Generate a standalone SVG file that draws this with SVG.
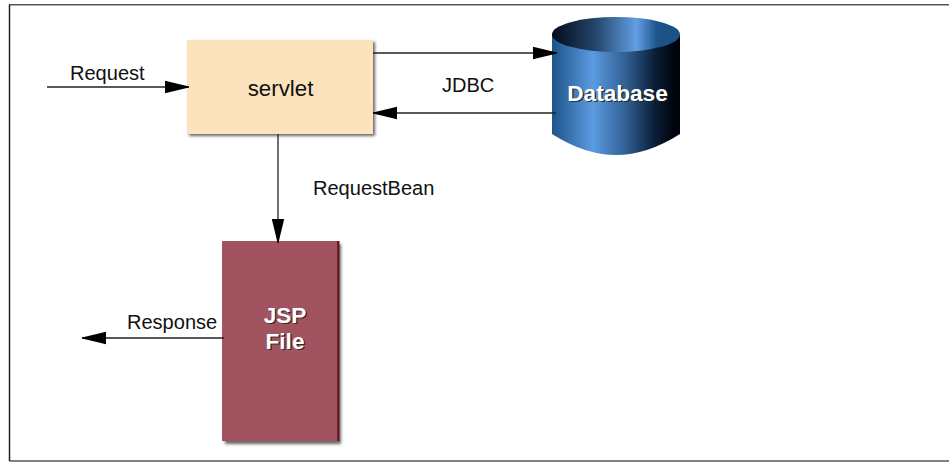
<svg xmlns="http://www.w3.org/2000/svg" width="949" height="462" viewBox="0 0 949 462">
<style>
.lbl{font-family:"Liberation Sans",Arial,sans-serif;font-size:20.050px;fill:#111}
.big{font-family:"Liberation Sans",Arial,sans-serif;font-size:22.600px;font-weight:bold;fill:#fff;text-anchor:middle}
.shd{fill:#222;opacity:.85;filter:url(#ts)}
.conn{stroke:#222;stroke-width:1.3;fill:none;marker-end:url(#ah)}
</style>
<defs>
<marker id="ah" markerUnits="userSpaceOnUse" markerWidth="25" markerHeight="14" refX="24" refY="7" orient="auto"><path d="M0 .8L24 6.600V7.400L0 13.200Z" fill="#000"/></marker>
<linearGradient id="body" x1="0" x2="1" y1="0" y2="0"><stop offset="0" stop-color="#1d5489"/><stop offset=".32" stop-color="#5b9be0"/><stop offset=".58" stop-color="#2f5f92"/><stop offset=".8" stop-color="#0b1f3a"/><stop offset=".95" stop-color="#00040c"/></linearGradient>
<linearGradient id="lid" x1="0" x2="1" y1="0" y2="0"><stop offset="0" stop-color="#030a18"/><stop offset=".35" stop-color="#25486f"/><stop offset=".66" stop-color="#629fe2"/><stop offset=".82" stop-color="#1d5489"/><stop offset="1" stop-color="#1a4f82"/></linearGradient>
<filter id="bl" x="-10%" y="-10%" width="120%" height="120%"><feGaussianBlur stdDeviation="1.500"/></filter>
<filter id="ts" x="-10%" y="-20%" width="120%" height="140%"><feGaussianBlur stdDeviation=".5"/></filter>
</defs>
<g id="frame" fill="none" stroke-width="1.500"><path d="M949 4.700H9.300M9.300 461H949" stroke="#555"/><path d="M9.500 4.500V461" stroke="#222"/></g>
<g id="servlet">
<rect x="189" y="42" width="186" height="94" fill="#666" filter="url(#bl)"/>
<rect x="187" y="40" width="186" height="94" fill="#fde3bd"/>
<text class="lbl" x="280.500" y="96" text-anchor="middle" style="font-size:22.300px">servlet</text>
</g>
<g id="database">
<path d="M552 34V134Q585 155 616 155T680 134V34Z" fill="url(#body)"/>
<ellipse cx="616" cy="34.500" rx="64" ry="17.500" fill="url(#lid)"/>
<text class="big shd" x="619" y="101.500">Database</text>
<text class="big" x="617.500" y="100.500">Database</text>
</g>
<g id="jsp">
<rect x="225" y="244" width="116" height="200" fill="#666" filter="url(#bl)"/>
<rect x="222" y="241" width="117" height="200" fill="#a1545f"/>
<rect x="337" y="241" width="2.500" height="200" fill="#6a1c26"/>
<text class="big shd" x="286.500" y="324">JSP</text>
<text class="big" x="285" y="323">JSP</text>
<text class="big shd" x="286.500" y="350">File</text>
<text class="big" x="285" y="349">File</text>
</g>
<g id="connectors">
<path class="conn" d="M47 87H189"/>
<path class="conn" d="M373 53H557"/>
<path class="conn" d="M556 113H373"/>
<path class="conn" d="M278 134V243"/>
<path class="conn" d="M224 338H82"/>
</g>
<g id="labels">
<text class="lbl" x="70" y="80">Request</text>
<text class="lbl" x="442" y="92">JDBC</text>
<text class="lbl" x="313" y="195">RequestBean</text>
<text class="lbl" x="127" y="329">Response</text>
</g>
</svg>
